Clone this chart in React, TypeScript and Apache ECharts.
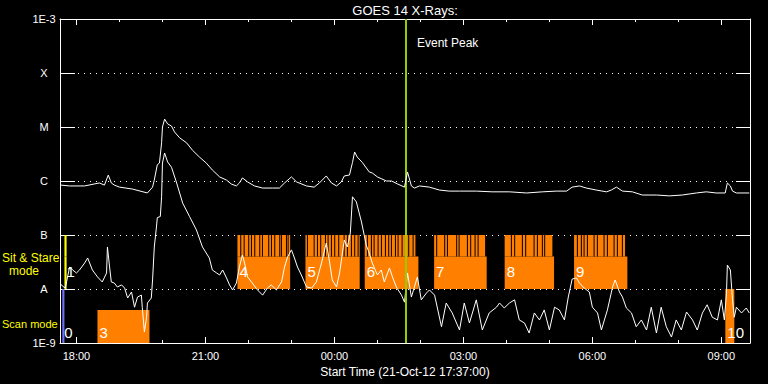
import React, { useEffect, useRef } from "react";
import * as echarts from "echarts";

const FONT = "'Liberation Sans', Arial, sans-serif";

// time axis in clock hours (24+ = next day), start 21-Oct-12 17:37
const START_HOUR = 17 + 37 / 60;
const END_HOUR = 33 + 40 / 60;
const EVENT_PEAK_HOUR = 25.663;

const xLabelHours = [18, 21, 24, 27, 30, 33];
const xHourTicks = [18, 19, 20, 21, 22, 23, 24, 25, 26, 27, 28, 29, 30, 31, 32, 33];
const yTickLabels = ["1E-9", "A", "B", "C", "M", "X", "1E-3"];

// GOES long channel (1-8 A), W/m^2
const longChannel: [number, number][] = [
  [17.63, 8.4e-7], [17.84, 8.1e-7], [18.19, 8.1e-7], [18.53, 9.2e-7], [18.65, 8.4e-7], [18.74, 1.29e-6],
  [18.81, 9.2e-7], [18.88, 8.4e-7], [19.0, 7.7e-7], [19.3, 7.1e-7], [19.65, 6.0e-7], [19.77, 7.7e-7],
  [19.81, 1.04e-6], [19.88, 2.0e-6], [19.93, 2.15e-6], [19.98, 5.1e-6], [20.0, 1.0e-5], [20.05, 1.4e-5],
  [20.12, 1.14e-5], [20.21, 1.04e-5], [20.28, 8.1e-6], [20.4, 6.3e-6], [20.56, 5.1e-6], [20.7, 3.7e-6],
  [20.86, 2.78e-6], [21.02, 2.15e-6], [21.16, 1.6e-6], [21.33, 1.19e-6], [21.49, 1.04e-6], [21.6, 8.8e-7],
  [21.72, 8.1e-7], [21.79, 9.2e-7], [21.86, 1.14e-6], [21.98, 9.6e-7], [22.14, 8.1e-7], [22.33, 7.4e-7],
  [22.56, 7.4e-7], [22.72, 7.4e-7], [22.84, 9.2e-7], [23.0, 1.19e-6], [23.12, 9.6e-7], [23.35, 8.1e-7],
  [23.53, 7.7e-7], [23.65, 9.2e-7], [23.81, 1.24e-6], [23.93, 9.2e-7], [24.05, 8.1e-7], [24.16, 9.6e-7],
  [24.23, 1.24e-6], [24.35, 1.29e-6], [24.42, 2.2e-6], [24.47, 3.44e-6], [24.53, 2.78e-6], [24.65, 2.2e-6],
  [24.81, 1.47e-6], [24.88, 1.41e-6], [25.0, 1.19e-6], [25.21, 1.0e-6], [25.33, 1.0e-6], [25.47, 8.8e-7],
  [25.63, 7.7e-7], [25.7, 1.47e-6], [25.79, 8.1e-7], [25.86, 7.4e-7], [25.98, 8.1e-7], [26.21, 7.7e-7],
  [26.44, 6.8e-7], [26.67, 6.5e-7], [26.91, 6.5e-7], [27.3, 6.5e-7], [27.67, 6.3e-7], [28.07, 6.3e-7],
  [28.47, 6.0e-7], [28.84, 6.3e-7], [29.16, 6.5e-7], [29.4, 6.5e-7], [29.53, 7.7e-7], [29.7, 8.1e-7],
  [29.86, 7.4e-7], [30.09, 6.8e-7], [30.33, 6.3e-7], [30.44, 6.8e-7], [30.56, 7.7e-7], [30.7, 6.5e-7],
  [30.93, 6.3e-7], [31.16, 5.5e-7], [31.49, 5.5e-7], [31.79, 5.3e-7], [32.09, 5.5e-7], [32.42, 6.0e-7],
  [32.65, 6.3e-7], [32.88, 6.0e-7], [33.09, 6.0e-7], [33.14, 9.2e-7], [33.21, 8.1e-7], [33.26, 6.5e-7],
  [33.35, 6.0e-7], [33.65, 6.0e-7],
];

// GOES short channel (0.5-4 A), W/m^2
const shortChannel: [number, number][] = [
  [17.63, 1.24e-8], [17.67, 1.14e-8], [17.74, 1.04e-8], [17.84, 2.56e-8], [17.91, 2.25e-8], [18.0, 1.98e-8],
  [18.07, 2.25e-8], [18.19, 3.03e-8], [18.26, 3.75e-8], [18.37, 2.25e-8], [18.49, 1.67e-8], [18.6, 1.35e-8],
  [18.7, 1.98e-8], [18.72, 6.0e-8], [18.77, 2.56e-8], [18.81, 1.35e-8], [18.88, 1.29e-8], [18.95, 1.09e-8],
  [19.05, 1.19e-8], [19.12, 1.04e-8], [19.19, 6.8e-9], [19.28, 8.8e-9], [19.35, 4.6e-9], [19.42, 7.1e-9],
  [19.51, 7.7e-9], [19.53, 4.6e-9], [19.58, 1.6e-9], [19.63, 3.0e-9], [19.65, 5.5e-9], [19.74, 6.8e-9],
  [19.77, 1.47e-8], [19.81, 6.0e-8], [19.86, 1.4e-7], [19.88, 2.1e-7], [19.95, 2.2e-7], [19.98, 5.1e-7],
  [20.0, 2.15e-6], [20.05, 3.3e-6], [20.12, 2.25e-6], [20.21, 1.8e-6], [20.33, 9.2e-7], [20.47, 3.9e-7],
  [20.63, 2.2e-7], [20.79, 1.24e-7], [20.93, 6.0e-8], [21.09, 3.75e-8], [21.16, 2.25e-8], [21.26, 1.98e-8],
  [21.33, 1.82e-8], [21.4, 2.25e-8], [21.49, 1.6e-8], [21.56, 1.19e-8], [21.63, 9.6e-9], [21.72, 1.29e-8],
  [21.79, 2.56e-8], [21.86, 4.26e-8], [21.91, 3.03e-8], [21.98, 1.67e-8], [22.09, 1.29e-8], [22.21, 9.6e-9],
  [22.33, 7.7e-9], [22.44, 1.04e-8], [22.53, 1.19e-8], [22.65, 9.6e-9], [22.77, 1.35e-8], [22.84, 2.56e-8],
  [22.91, 3.9e-8], [23.0, 5.3e-8], [23.07, 3.75e-8], [23.14, 2.56e-8], [23.23, 1.82e-8], [23.35, 1.09e-8],
  [23.47, 1.04e-8], [23.58, 1.35e-8], [23.7, 3.03e-8], [23.81, 7.1e-8], [23.88, 3.44e-8], [23.95, 1.47e-8],
  [24.05, 1.09e-8], [24.12, 1.98e-8], [24.23, 8.1e-8], [24.3, 6.0e-8], [24.37, 1.09e-7], [24.42, 5.1e-7],
  [24.51, 4.1e-7], [24.63, 1.74e-7], [24.74, 6.5e-8], [24.81, 4.64e-8], [24.88, 3.03e-8], [25.0, 1.82e-8],
  [25.09, 2.25e-8], [25.16, 1.35e-8], [25.28, 2.45e-8], [25.35, 1.67e-8], [25.44, 1.09e-8], [25.56, 7.7e-9],
  [25.63, 5.7e-9], [25.7, 1.98e-8], [25.79, 7.1e-9], [25.86, 1.09e-8], [25.93, 1.67e-8], [26.02, 6.3e-9],
  [26.14, 8.4e-9], [26.21, 9.6e-9], [26.33, 7.7e-9], [26.49, 2.0e-9], [26.6, 5.5e-9], [26.74, 3.6e-9],
  [26.91, 1.74e-9], [27.02, 5.5e-9], [27.14, 2.35e-9], [27.3, 6.3e-9], [27.44, 1.74e-9], [27.6, 3.6e-9],
  [27.77, 4.6e-9], [27.84, 5.5e-9], [27.95, 4.45e-9], [28.07, 5.5e-9], [28.19, 6.3e-9], [28.3, 2.67e-9],
  [28.42, 2.35e-9], [28.53, 1.53e-9], [28.65, 3.6e-9], [28.77, 2.67e-9], [28.88, 4.1e-9], [29.0, 1.74e-9],
  [29.12, 4.6e-9], [29.23, 4.1e-9], [29.35, 2.67e-9], [29.44, 7.1e-9], [29.53, 1.53e-8], [29.63, 1.6e-8],
  [29.7, 1.29e-8], [29.81, 1.04e-8], [29.93, 8.8e-9], [30.0, 4.6e-9], [30.12, 3.6e-9], [30.21, 1.74e-9],
  [30.28, 2.67e-9], [30.35, 4.1e-9], [30.47, 1.09e-8], [30.53, 1.47e-8], [30.63, 8.8e-9], [30.7, 7.1e-9],
  [30.79, 4.45e-9], [30.91, 3.6e-9], [31.02, 2.0e-9], [31.14, 2.67e-9], [31.26, 1.74e-9], [31.37, 4.6e-9],
  [31.49, 1.53e-9], [31.6, 4.6e-9], [31.72, 2.0e-9], [31.84, 1.29e-9], [31.95, 2.67e-9], [32.07, 1.74e-9],
  [32.19, 3.75e-9], [32.33, 2.67e-9], [32.44, 1.74e-9], [32.56, 3.6e-9], [32.67, 5.1e-9], [32.79, 3.0e-9],
  [32.91, 2.67e-9], [33.0, 6.3e-9], [33.07, 2.67e-9], [33.12, 8.4e-9], [33.14, 2.78e-8], [33.21, 2.25e-8],
  [33.26, 6.3e-9], [33.3, 3.0e-9], [33.35, 4.6e-9], [33.47, 3.6e-9], [33.58, 4.45e-9], [33.65, 3.6e-9],
];

// Scan-mode blocks
const scanLabels = ["0", "3", "10"];
const scanStart = [17.67, 18.488, 33.093];
const scanEnd = [17.72, 19.698, 33.302];
const scanTop = [1e-8, 4.1e-9, 1e-8];
const scanColors = ["#7070ff", "#ff8000", "#ff8000"];
const scanLabelFlux = 1.55e-9;

// Sit & Stare blocks
const sitLabels = ["1", "4", "5", "6", "7", "8", "9"];
const sitStart = [17.72, 21.744, 23.326, 24.705, 26.319, 27.96, 29.574];
const sitEnd = [17.77, 22.97, 24.588, 25.953, 27.542, 29.109, 30.814];
const sitUpperEnd = [17.77, 22.97, 24.588, 25.884, 27.505, 29.07, 30.76];
const sitColors = ["#ffff00", "#ff8000", "#ff8000", "#ff8000", "#ff8000", "#ff8000", "#ff8000"];
const sitLevels = [1e-8, 4.0e-8, 1e-7]; // bottom, band split, top
const sitLabelFlux = 2.07e-8;

// black stripes in the upper Sit & Stare band
const stripeTimes = [
  21.821, 21.9, 22.007, 22.07, 22.147, 22.263, 22.326, 22.472, 22.535, 22.612, 22.728, 22.767, 22.884, 22.923,
  23.372, 23.528, 23.605, 23.681, 23.791, 23.853, 23.93, 24.007, 24.1, 24.226, 24.302, 24.395, 24.472, 24.551,
  24.767, 24.86, 24.923, 25.016, 25.093, 25.186, 25.263, 25.326, 25.419, 25.481, 25.574, 25.728, 25.83,
  26.379, 26.565, 26.628, 26.844, 26.9, 27.093, 27.17, 27.272, 27.342,
  28.116, 28.193, 28.372, 28.449, 28.644, 28.721, 28.837, 28.891,
  29.651, 29.744, 29.807, 29.884, 30.04, 30.116, 30.272, 30.349, 30.505, 30.581, 30.698,
];

function hourLabel(v: number) {
  const h = Math.round(v) % 24;
  return (h < 10 ? "0" : "") + h + ":00";
}

export default function App() {
  const ref = useRef<HTMLDivElement>(null);

  useEffect(() => {
    document.body.style.margin = "0";
    document.body.style.background = "#000";
    const chart = echarts.init(ref.current!, null, { renderer: "svg" });

    const rects: number[][] = [];
    const rectColors: string[] = [];
    scanStart.forEach((s, i) => {
      rects.push([s, scanEnd[i], 1e-9, scanTop[i]]);
      rectColors.push(scanColors[i]);
    });
    sitStart.forEach((s, i) => {
      rects.push([s, sitEnd[i], sitLevels[0], sitLevels[1]]);
      rectColors.push(sitColors[i]);
      rects.push([s, sitUpperEnd[i], sitLevels[1], sitLevels[2]]);
      rectColors.push(sitColors[i]);
    });

    const labelData: number[][] = [];
    const labelTexts: string[] = [];
    scanStart.forEach((s, i) => {
      labelData.push([s, scanLabelFlux]);
      labelTexts.push(scanLabels[i]);
    });
    sitStart.forEach((s, i) => {
      labelData.push([s, sitLabelFlux]);
      labelTexts.push(sitLabels[i]);
    });

    const white = "#ffffff";
    const baseX = {
      type: "value",
      min: START_HOUR,
      max: END_HOUR,
      splitLine: { show: false },
      axisLabel: { show: false },
    };

    const option: any = {
      animation: false,
      backgroundColor: "#000000",
      grid: { left: 60, top: 19, right: 18, bottom: 41, outerBoundsMode: "none", containLabel: false },
      graphic: [
        { type: "text", x: 405, y: 10, style: { text: "GOES 14 X-Rays:", fill: white, font: `13px ${FONT}`, align: "center", verticalAlign: "middle" } },
        { type: "text", x: 417, y: 43, z: 10, style: { text: "Event Peak", fill: white, font: `12px ${FONT}`, align: "left", verticalAlign: "middle" } },
        { type: "text", x: 2, y: 258, style: { text: "Sit & Stare", fill: "#ffff00", font: `12px ${FONT}`, align: "left", verticalAlign: "middle" } },
        { type: "text", x: 24, y: 271, style: { text: "mode", fill: "#ffff00", font: `12px ${FONT}`, align: "center", verticalAlign: "middle" } },
        { type: "text", x: 2, y: 324, style: { text: "Scan mode", fill: "#ffff00", font: `11px ${FONT}`, align: "left", verticalAlign: "middle" } },
      ],
      xAxis: [
        {
          ...baseX,
          position: "bottom",
          axisLine: { show: true, onZero: false, lineStyle: { color: white, width: 1 } },
          axisTick: { show: true, inside: true, length: 6, customValues: xLabelHours, lineStyle: { color: white } },
          axisLabel: { show: true, customValues: xLabelHours, formatter: hourLabel, color: white, fontFamily: FONT, fontSize: 11, margin: 7 },
          name: "Start Time (21-Oct-12 17:37:00)",
          nameLocation: "middle",
          nameGap: 20,
          nameTextStyle: { color: white, fontFamily: FONT, fontSize: 12 },
        },
        {
          ...baseX,
          position: "bottom",
          axisLine: { show: false, onZero: false },
          axisTick: { show: true, inside: true, length: 3, customValues: xHourTicks, lineStyle: { color: white } },
        },
        {
          ...baseX,
          position: "top",
          axisLine: { show: true, onZero: false, lineStyle: { color: white, width: 1 } },
          axisTick: { show: true, inside: true, length: 6, customValues: xLabelHours, lineStyle: { color: white } },
        },
        {
          ...baseX,
          position: "top",
          axisLine: { show: false, onZero: false },
          axisTick: { show: true, inside: true, length: 3, customValues: xHourTicks, lineStyle: { color: white } },
        },
      ],
      yAxis: [
        {
          type: "log",
          logBase: 10,
          min: 1e-9,
          max: 1e-3,
          splitNumber: 6,
          position: "left",
          axisLine: { show: true, onZero: false, lineStyle: { color: white, width: 1 } },
          axisTick: { show: true, inside: true, length: 15, lineStyle: { color: white } },
          axisLabel: {
            color: white,
            fontFamily: FONT,
            fontSize: 11,
            margin: 16,
            align: "center",
            formatter: (v: number) => yTickLabels[Math.round(Math.log10(v)) + 9] ?? "",
          },
          splitLine: { show: true, lineStyle: { color: white, width: 1, type: [1, 5] } },
        },
        {
          type: "log",
          logBase: 10,
          min: 1e-9,
          max: 1e-3,
          splitNumber: 6,
          position: "right",
          axisLine: { show: true, onZero: false, lineStyle: { color: white, width: 1 } },
          axisTick: { show: true, inside: true, length: 14, lineStyle: { color: white } },
          axisLabel: { show: false },
          splitLine: { show: false },
        },
      ],
      series: [
        {
          type: "custom",
          name: "modes",
          z: 1,
          xAxisIndex: 0,
          yAxisIndex: 0,
          silent: true,
          encode: { x: [0, 1], y: [2, 3] },
          data: rects,
          renderItem: (params: any, api: any) => {
            const p0 = api.coord([api.value(0), api.value(3)]);
            const p1 = api.coord([api.value(1), api.value(2)]);
            return {
              type: "rect",
              shape: { x: p0[0], y: p0[1], width: p1[0] - p0[0], height: p1[1] - p0[1] },
              style: { fill: rectColors[params.dataIndex] },
            };
          },
        },
        {
          type: "custom",
          name: "stripes",
          z: 2,
          silent: true,
          encode: { x: 0 },
          data: stripeTimes.map((t) => [t]),
          renderItem: (params: any, api: any) => {
            const p0 = api.coord([api.value(0), sitLevels[2]]);
            const p1 = api.coord([api.value(0), sitLevels[1]]);
            return {
              type: "rect",
              shape: { x: p0[0] - 0.5, y: p0[1], width: 1, height: p1[1] - p0[1] },
              style: { fill: "#000000" },
            };
          },
        },
        {
          type: "custom",
          name: "labels",
          z: 3,
          silent: true,
          encode: { x: 0, y: 1 },
          data: labelData,
          renderItem: (params: any, api: any) => {
            const p = api.coord([api.value(0), api.value(1)]);
            return {
              type: "text",
              x: p[0] + 2,
              y: p[1],
              style: {
                text: labelTexts[params.dataIndex],
                fill: white,
                font: `15px ${FONT}`,
                align: "left",
                verticalAlign: "middle",
              },
            };
          },
        },
        {
          type: "line",
          name: "short",
          z: 4,
          data: shortChannel,
          showSymbol: false,
          symbol: "none",
          lineStyle: { color: white, width: 1 },
        },
        {
          type: "line",
          name: "long",
          z: 5,
          data: longChannel,
          showSymbol: false,
          symbol: "none",
          lineStyle: { color: white, width: 1 },
          markLine: {
            silent: true,
            symbol: "none",
            label: { show: false },
            lineStyle: { color: "#99cc00", width: 2, type: "solid" },
            data: [{ xAxis: EVENT_PEAK_HOUR }],
          },
        },
      ],
    };

    chart.setOption(option);
    return () => chart.dispose();
  }, []);

  return <div ref={ref} style={{ width: 768, height: 384, background: "#000" }} />;
}
